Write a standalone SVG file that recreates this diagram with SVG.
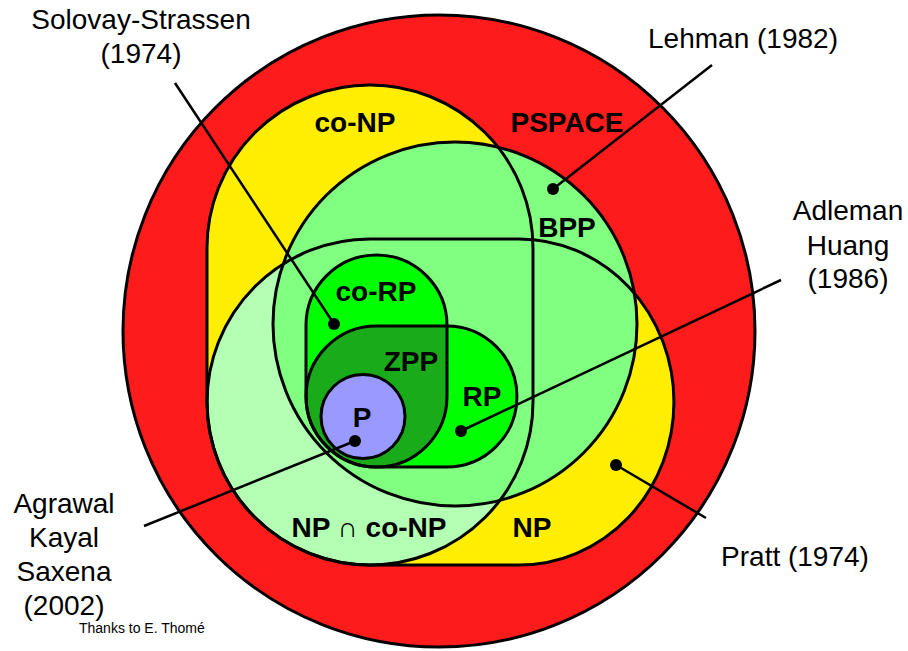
<svg xmlns="http://www.w3.org/2000/svg" width="908" height="651" viewBox="0 0 908 651">
<style>
.o{stroke:#000;stroke-width:3;fill:none}
.lb{font-family:"Liberation Sans",Arial,Helvetica,sans-serif;font-weight:bold;font-size:28px;text-anchor:middle;fill:#000}
.tx{font-family:"Liberation Sans",Arial,Helvetica,sans-serif;font-size:28px;text-anchor:middle;fill:#000}
.ld{stroke:#000;stroke-width:2.5;fill:none}
.dot{fill:#000}
</style>
<defs>
<path id="coNPp" d="M207,248 A163,163 0 0 1 533,248 L533,402 A163,163 0 0 1 207,402 Z"/>
<path id="NPp" d="M370,239 L519,239 A155,163 0 0 1 519,565 L370,565 A163,163 0 0 1 370,239 Z"/>
<path id="coRPp" d="M306,325.5 A70.5,70.5 0 0 1 447,325.5 L447,396.5 A70.5,70.5 0 0 1 306,396.5 Z"/>
<path id="RPp" d="M376.5,326 L446.5,326 A70.5,70.5 0 0 1 446.5,467 L376.5,467 A70.5,70.5 0 0 1 376.5,326 Z"/>
<clipPath id="clipNP"><use href="#NPp"/></clipPath>
<clipPath id="clipRP"><use href="#RPp"/></clipPath>
</defs>
<rect width="908" height="651" fill="#fff"/>
<g id="PSPACE">
<circle cx="439" cy="331" r="316" class="o" style="fill:#fe1b1b"/>
<text class="lb" x="567" y="132">PSPACE</text>
</g>
<g id="coNP">
<use href="#coNPp" fill="#ffee00"/>
</g>
<g id="NP">
<use href="#NPp" fill="#ffee00"/>
</g>
<g id="NPcoNP">
<use href="#coNPp" fill="#b3ffb3" clip-path="url(#clipNP)"/>
</g>
<g id="BPP">
<circle cx="455" cy="324" r="182" fill="#80ff80"/>
<circle cx="455" cy="324" r="182" class="o"/>
<text class="lb" x="567" y="237">BPP</text>
</g>
<g id="outlines">
<use href="#coNPp" class="o"/>
<use href="#NPp" class="o"/>
</g>
<g id="labelsNP">
<text class="lb" x="355" y="132">co-NP</text>
<text class="lb" x="532" y="537">NP</text>
<text class="lb" x="369" y="537">NP ∩ co-NP</text>
</g>
<g id="coRP">
<use href="#coRPp" fill="#00ff00"/>
</g>
<g id="RP">
<use href="#RPp" fill="#00ff00"/>
</g>
<g id="ZPP">
<use href="#coRPp" fill="#1aab1a" clip-path="url(#clipRP)"/>
<use href="#coRPp" class="o"/>
<use href="#RPp" class="o"/>
<text class="lb" x="376" y="301">co-RP</text>
<text class="lb" x="411" y="371">ZPP</text>
<text class="lb" x="482" y="406">RP</text>
</g>
<g id="P">
<circle cx="363" cy="416.5" r="42" class="o" style="fill:#9999ff"/>
<text class="lb" x="362" y="427">P</text>
</g>
<g id="connectors">
<line class="ld" x1="175" y1="83" x2="334" y2="324"/>
<circle class="dot" cx="334" cy="324" r="6"/>
<line class="ld" x1="712" y1="65" x2="553" y2="189"/>
<circle class="dot" cx="553" cy="189" r="6"/>
<line class="ld" x1="781" y1="280" x2="461" y2="431"/>
<circle class="dot" cx="461" cy="431" r="6"/>
<line class="ld" x1="144" y1="526" x2="355" y2="441"/>
<circle class="dot" cx="355" cy="441" r="6"/>
<line class="ld" x1="706" y1="518" x2="616" y2="465"/>
<circle class="dot" cx="616" cy="465" r="6"/>
</g>
<g id="Solovay">
<text class="tx" x="141" y="29">Solovay-Strassen</text>
<text class="tx" x="141" y="63">(1974)</text>
</g>
<g id="Lehman">
<text class="tx" x="743" y="48">Lehman (1982)</text>
</g>
<g id="Adleman">
<text class="tx" x="848" y="220">Adleman</text>
<text class="tx" x="848" y="255">Huang</text>
<text class="tx" x="848" y="288">(1986)</text>
</g>
<g id="Agrawal">
<text class="tx" x="64" y="513">Agrawal</text>
<text class="tx" x="64" y="547">Kayal</text>
<text class="tx" x="64" y="581">Saxena</text>
<text class="tx" x="64" y="615">(2002)</text>
</g>
<g id="Pratt">
<text class="tx" x="795" y="566">Pratt (1974)</text>
</g>
<g id="credit">
<text x="79" y="633" style="font-family:'Liberation Sans',Arial,Helvetica,sans-serif;font-size:14px;fill:#000">Thanks to E. Thomé</text>
</g>
</svg>
